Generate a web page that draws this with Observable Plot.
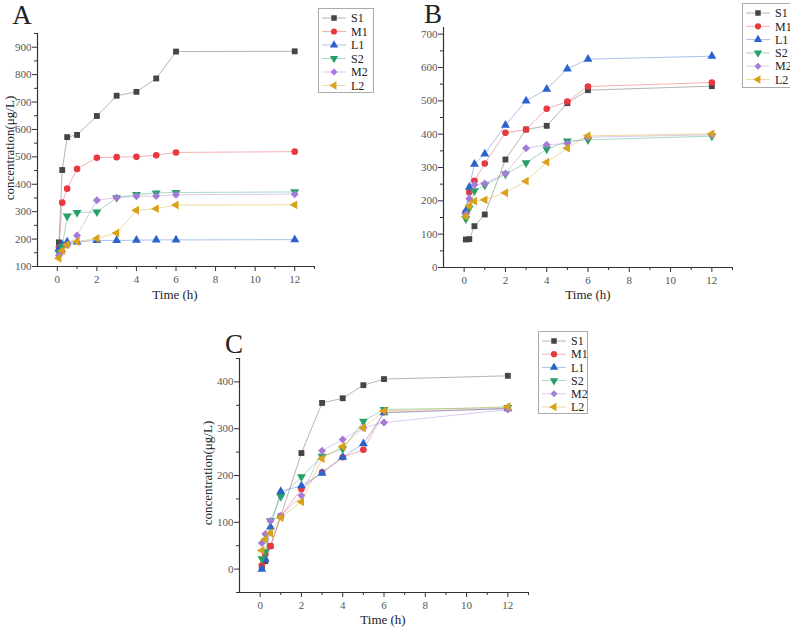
<!DOCTYPE html>
<html><head><meta charset="utf-8">
<script src="https://cdn.jsdelivr.net/npm/d3@7"></script>
<script src="https://cdn.jsdelivr.net/npm/@observablehq/plot@0.6"></script>
<style>
html,body{margin:0;padding:0;background:#fff;overflow:hidden;}
#root{position:relative;width:790px;height:630px;font-family:"Liberation Serif","DejaVu Serif",serif;}
.pl{position:absolute;}
.txt{position:absolute;white-space:nowrap;color:#222;font-family:"Liberation Serif",serif;}
.lg{position:absolute;border:1px solid #aaa;background:#fff;}
</style></head><body><div id="root"></div>
<script>
const time = [0.083, 0.25, 0.5, 1, 2, 3, 4, 5, 6, 12];
const series = ["S1","M1","L1","S2","M2","L2"];
const colors = ["#454545","#e8393f","#2a63cc","#27a066","#a57bd8","#d8a21a"];
const symbols = ["square","circle","triangle","triangle","diamond2","triangle"];
const rotations = [0, 0, 0, 180, 0, -90];

// Panel A
const aS1 = [188, 452, 572, 580, 649, 723, 737, 786, 884, 885];
const aM1 = [170, 333, 384, 456, 497, 499, 500, 506, 516, 519];
const aL1 = [165, 180, 190, 190, 195, 195, 196, 197, 197, 198];
const aS2 = [150, 172, 284, 297, 299, 351, 362, 368, 370, 372];
const aM2 = [140, 155, 178, 213, 342, 351, 356, 357, 362, 364];
const aL2 = [130, 158, 180, 191, 202, 222, 305, 311, 324, 325];
// Panel B
const bS1 = [84, 85, 124, 159, 324, 414, 425, 493, 532, 544];
const bM1 = [166, 226, 260, 312, 404, 414, 476, 498, 543, 555];
const bL1 = [170, 241, 310, 341, 427, 500, 535, 596, 625, 634];
const bS2 = [146, 178, 230, 247, 280, 314, 355, 379, 383, 394];
const bM2 = [160, 206, 248, 252, 282, 358, 368, 372, 391, 398];
const bL2 = [153, 185, 199, 203, 224, 259, 316, 358, 395, 401];
// Panel C
const cS1 = [6, 17, 49, 113, 248, 355, 365, 393, 406, 413];
const cM1 = [8, 31, 49, 113, 171, 207, 239, 255, 335, 343];
const cL1 = [0, 21, 90, 166, 178, 205, 239, 268, 334, 343];
const cS2 = [22, 37, 103, 155, 197, 241, 257, 316, 341, 345];
const cM2 = [56, 75, 103, 114, 157, 253, 277, 302, 313, 341];
const cL2 = [40, 64, 77, 110, 144, 236, 262, 302, 338, 347];

const xTicks = [0, 2, 4, 6, 8, 10, 12];
const xMinor = [1, 3, 5, 7, 9, 11, 13];
const aYTicks = [100, 200, 300, 400, 500, 600, 700, 800, 900];
const bYTicks = [0, 100, 200, 300, 400, 500, 600, 700];
const cYTicks = [0, 100, 200, 300, 400];

const root = document.getElementById("root");

function table(arrs) {
  const rows = [];
  arrs.forEach((arr, i) => arr.forEach((v, j) => rows.push({s: series[i], t: time[j], v})));
  return rows;
}

function panel(o) {
  const data = table(o.arrs);
  const rot = Object.fromEntries(series.map((s, i) => [s, rotations[i]]));
  const yMinor = o.yticks.map(v => v + o.ystep / 2).filter(v => v <= o.ydom[1]);
  if (o.ydom[0] < o.yticks[0]) yMinor.unshift(o.yticks[0] - o.ystep / 2);
  const marks = [
    Plot.ruleX([-1], {stroke: "#333", strokeWidth: 1.2}),
    Plot.ruleY([o.ydom[0]], {stroke: "#333", strokeWidth: 1.2}),
    Plot.axisX({ticks: xTicks, tickSize: 5, tickPadding: 4, fill: "#555", stroke: "#333", label: null}),
    Plot.axisX({ticks: xMinor, tickSize: 3, tickFormat: () => "", stroke: "#333", label: null}),
    Plot.axisY({ticks: o.yticks, tickSize: 5, tickPadding: 1, fill: "#555", stroke: "#333", label: null}),
    Plot.axisY({ticks: yMinor, tickSize: 3, tickFormat: () => "", stroke: "#333", label: null})
  ];
  series.forEach((s, i) => {
    const d = data.filter(r => r.s === s);
    marks.push(Plot.line(d, {x: "t", y: "v", stroke: colors[i], strokeWidth: 0.8, strokeOpacity: 0.5}));
    marks.push(Plot.dot(d, {x: "t", y: "v", fill: colors[i], symbol: () => symbols[i], rotate: () => rot[s], r: i === 4 ? 3.6 : 3.3, stroke: "none"}));
  });
  const p = Plot.plot({
    width: o.width, height: o.height,
    marginLeft: o.ml, marginRight: o.mr, marginTop: o.mt, marginBottom: o.mb,
    x: {domain: [-1, 13]},
    y: {domain: o.ydom},
    symbol: {type: "identity"},
    style: {fontFamily: "Liberation Serif, serif", fontSize: "11px", background: "transparent", overflow: "visible"},
    marks
  });
  p.classList.add("pl");
  p.style.left = o.left + "px";
  p.style.top = o.top + "px";
  root.appendChild(p);
}

function text(str, x, y, size, rotate) {
  const d = document.createElement("div");
  d.className = "txt";
  d.textContent = str;
  d.style.fontSize = size + "px";
  d.style.left = x + "px";
  d.style.top = y + "px";
  d.style.transform = "translate(-50%,-50%)" + (rotate ? " rotate(-90deg)" : "");
  root.appendChild(d);
}

function legend(left, top, w, h, gap) {
  const d = document.createElement("div");
  d.className = "lg";
  d.style.left = left + "px"; d.style.top = top + "px";
  d.style.width = w + "px"; d.style.height = h + "px";
  const svg = d3.create("svg").attr("width", w).attr("height", h).style("overflow", "visible");
  const types = {square: d3.symbolSquare, circle: d3.symbolCircle, triangle: d3.symbolTriangle, diamond2: d3.symbolDiamond2};
  series.forEach((s, i) => {
    const y = 9 + i * gap;
    svg.append("line").attr("x1", 3).attr("x2", 27).attr("y1", y).attr("y2", y)
      .attr("stroke", colors[i]).attr("stroke-opacity", 0.5).attr("stroke-width", 0.8);
    svg.append("path").attr("d", d3.symbol(types[symbols[i]], Math.PI * 3.1 * 3.1)())
      .attr("transform", `translate(15,${y}) rotate(${rotations[i]})`).attr("fill", colors[i]);
    svg.append("text").attr("x", 32).attr("y", y).attr("dy", "0.35em")
      .attr("font-family", "Liberation Serif, serif").attr("font-size", 12).attr("fill", "#222").text(s);
  });
  d.appendChild(svg.node());
  root.appendChild(d);
}

// Panel A
panel({left: 0, top: 0, width: 320, height: 310, ml: 37, mr: 6, mt: 33, mb: 44,
  ydom: [100, 950], yticks: aYTicks, ystep: 100, arrs: [aS1, aM1, aL1, aS2, aM2, aL2]});
// Panel B
panel({left: 400, top: 0, width: 340, height: 310, ml: 43, mr: 8, mt: 27, mb: 43,
  ydom: [0, 720], yticks: bYTicks, ystep: 100, arrs: [bS1, bM1, bL1, bS2, bM2, bL2]});
// Panel C
panel({left: 190, top: 310, width: 345, height: 320, ml: 49, mr: 7, mt: 48, mb: 38,
  ydom: [-50, 450], yticks: cYTicks, ystep: 100, arrs: [cS1, cM1, cL1, cS2, cM2, cL2]});

text("A", 22, 15, 27);
text("B", 433, 14, 27);
text("C", 234, 344, 27);
text("Time (h)", 175, 295, 13);
text("Time (h)", 588, 295, 13);
text("Time (h)", 383, 620, 13);
text("concentration(μg/L)", 10, 148, 13, true);
text("concentration(μg/L)", 208, 473, 13, true);

legend(318, 8, 54, 83, 13.5);
legend(742, 3, 60, 83, 13.3);
legend(538, 331, 48, 81, 13.2);
</script></body></html>
